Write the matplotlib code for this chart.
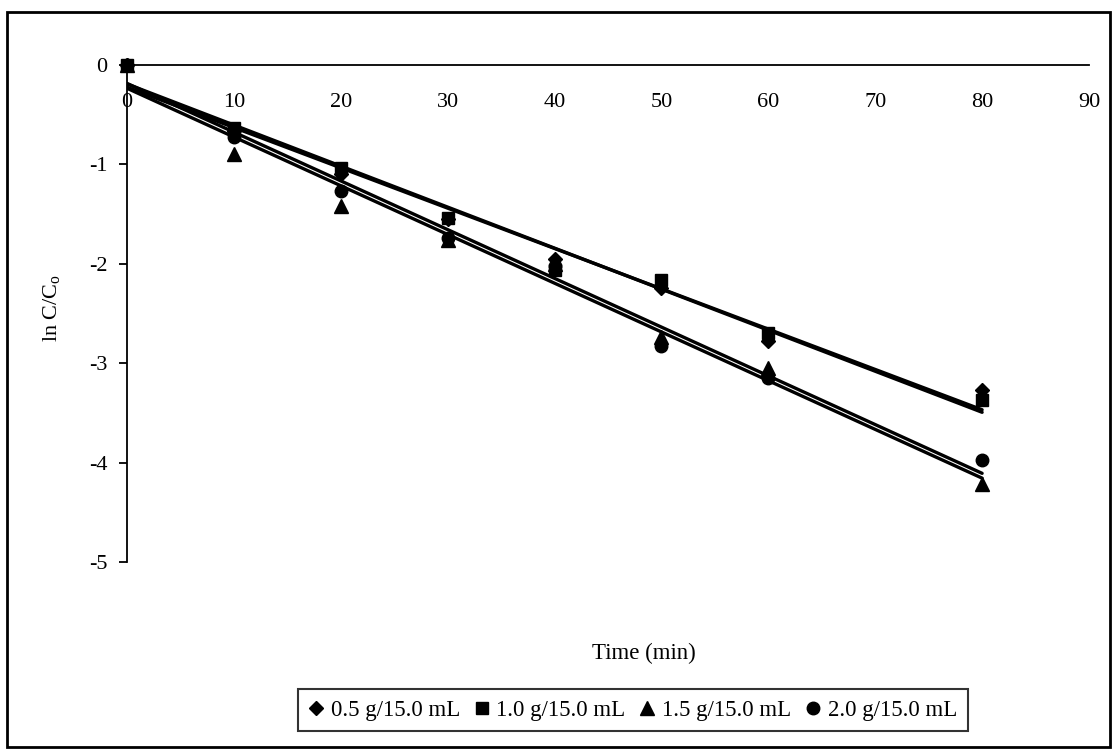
import matplotlib

matplotlib.use("Agg")
import matplotlib.pyplot as plt
import numpy as np
from matplotlib.patches import Rectangle

plt.rcParams["font.family"] = ["Liberation Serif", "DejaVu Serif"]
plt.rcParams["mathtext.fontset"] = "custom"
plt.rcParams["mathtext.rm"] = "Liberation Serif"
plt.rcParams["axes.unicode_minus"] = False

TIME = [0, 10, 20, 30, 40, 50, 60, 80]
LABELS = ["0.5 g/15.0 mL", "1.0 g/15.0 mL", "1.5 g/15.0 mL", "2.0 g/15.0 mL"]
LN_05 = [0.0, -0.66, -1.10, -1.55, -1.95, -2.24, -2.78, -3.27]
LN_10 = [0.0, -0.63, -1.04, -1.54, -2.06, -2.16, -2.70, -3.37]
LN_15 = [0.0, -0.90, -1.42, -1.76, -2.00, -2.74, -3.05, -4.22]
LN_20 = [0.0, -0.72, -1.27, -1.74, -2.02, -2.83, -3.15, -3.97]
SERIES = [LN_05, LN_10, LN_15, LN_20]
MARKERS = [("D", 7.5), ("s", 9.0), ("^", 10.0), ("o", 9.0)]
XTICKS = [0, 10, 20, 30, 40, 50, 60, 70, 80, 90]
YTICKS = [0, -1, -2, -3, -4, -5]


def main() -> None:
    fig = plt.figure(figsize=(11.14, 7.5), dpi=100)
    ax = fig.add_axes([127 / 1114, 188 / 750, 962 / 1114, 497 / 750])

    t = np.array(TIME, dtype=float)
    handles = []
    for ys, (marker, size), label in zip(SERIES, MARKERS, LABELS):
        # linear trendline through each series
        slope, icpt = np.polyfit(t, ys, 1)
        ax.plot([t.min(), t.max()], [icpt + slope * t.min(), icpt + slope * t.max()],
                color="black", linewidth=2.4, zorder=2, solid_capstyle="round")
        h, = ax.plot(t, ys, linestyle="none", marker=marker, markersize=size,
                     color="black", zorder=3, label=label, clip_on=False)
        handles.append(h)

    ax.set_xlim(0, 90)
    ax.set_ylim(-5, 0)
    ax.set_xticks(XTICKS)
    ax.set_yticks(YTICKS)
    ax.set_yticklabels([str(v) for v in YTICKS])
    ax.spines["top"].set_visible(False)
    ax.spines["right"].set_visible(False)
    ax.spines["bottom"].set_position(("data", 0))
    for s in ("left", "bottom"):
        ax.spines[s].set_linewidth(1.3)
    ax.tick_params(axis="x", length=0, pad=20, labelsize=16)
    ax.tick_params(axis="y", direction="out", length=6, width=1.3, pad=8, labelsize=16)

    fig.text(52 / 1114, 1 - 308 / 750, "ln C/C$_\\mathrm{o}$", rotation=90,
             ha="center", va="center", fontsize=16)
    fig.text(644 / 1114, 1 - 653 / 750, "Time (min)", ha="center", va="center", fontsize=16.5)

    leg = fig.legend(handles=handles, loc="center", ncol=4,
                     bbox_to_anchor=(633 / 1114, 1 - 710 / 750), fontsize=16.5,
                     frameon=True, fancybox=False, handlelength=0.6, handletextpad=0.35,
                     columnspacing=0.65, borderpad=0.45, borderaxespad=0, markerscale=1.0)
    leg.get_frame().set_edgecolor("black")
    leg.get_frame().set_linewidth(1.5)

    fig.patches.append(Rectangle((7 / 1114, 3 / 750), 1103 / 1114, 735 / 750,
                                 transform=fig.transFigure, fill=False,
                                 edgecolor="black", linewidth=2))

    fig.savefig("out.png", dpi=100)
    plt.close(fig)


if __name__ == "__main__":
    main()
